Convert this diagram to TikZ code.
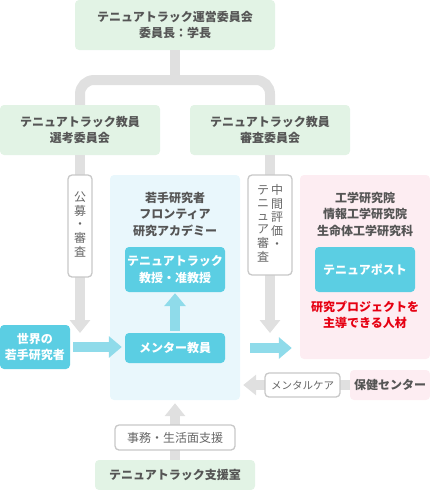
\documentclass[tikz,border=0pt]{standalone}
\usepackage{fontspec}
\newfontfamily\jp{Noto Sans CJK JP}
\usetikzlibrary{arrows.meta}
\definecolor{boxgreen}{HTML}{E2F3E5}
\definecolor{boxcyan}{HTML}{5BCEE3}
\definecolor{arrcyan}{HTML}{8FDBEA}
\definecolor{boxblue}{HTML}{E9F7FC}
\definecolor{boxpink}{HTML}{FDEDF2}
\definecolor{linegray}{HTML}{E0E0E0}
\definecolor{framegray}{HTML}{C8C8C8}
\definecolor{txtgray}{HTML}{555555}
\definecolor{txtred}{HTML}{E60012}
\newcommand{\bigfont}{\jp\bfseries\fontsize{12pt}{16.5pt}\selectfont}
\newcommand{\smallfont}{\jp\fontsize{12pt}{13pt}\selectfont}

\begin{document}
\begin{tikzpicture}[x=1pt,y=-1pt,
    box/.style={rounded corners=4pt, inner sep=0pt, align=center, font=\bigfont, text=txtgray},
    greenbox/.style={box, fill=boxgreen},
    cyanbox/.style={box, fill=boxcyan, text=white},
    pinkbox/.style={box, fill=boxpink},
    bluebox/.style={box, fill=boxblue},
    tag/.style={draw=framegray, line width=1.3pt, fill=white, rounded corners=4pt, inner sep=0pt, align=center, font=\smallfont, text=txtgray!90},
    trunk/.style={draw=linegray, line width=10pt},
    grayarrow/.style={trunk, -{Triangle[width=20pt,length=13pt]}},
    cyanarrow/.style={draw=arrcyan, line width=10pt, -{Triangle[width=21pt,length=13pt]}}]
    \useasboundingbox (0,0) rectangle (430,490);

    % boxes
    \node[greenbox, minimum width=200pt, minimum height=50pt] (top) at (175,25) {テニュアトラック運営委員会\\委員長：学長};
    \node[greenbox, minimum width=160pt, minimum height=50pt] (sel) at (80,130) {テニュアトラック教員\\選考委員会};
    \node[greenbox, minimum width=160pt, minimum height=50pt] (rev) at (270,130) {テニュアトラック教員\\審査委員会};

    \node[bluebox, minimum width=130pt, minimum height=225pt] (acad) at (175,287.5) {};
    \node[box] (acadtitle) at (175,214) {若手研究者\\フロンティア\\研究アカデミー};
    \node[cyanbox, minimum width=100pt, minimum height=45pt] (prof) at (175,269.5) {テニュアトラック\\教授・准教授};
    \node[cyanbox, minimum width=100pt, minimum height=30pt] (mentor) at (175,348) {メンター教員};
    \node[cyanbox, minimum width=70pt, minimum height=44pt] (world) at (35,347) {世界の\\若手研究者};

    \node[pinkbox, minimum width=130pt, minimum height=184pt] (grad) at (365,267) {};
    \node[box] (gradtitle) at (365,214) {工学研究院\\情報工学研究院\\生命体工学研究科};
    \node[cyanbox, minimum width=100pt, minimum height=45pt] (post) at (365,269.5) {テニュアポスト};
    \node[box, text=txtred] (leader) at (365,315) {研究プロジェクトを\\主導できる人材};

    \node[pinkbox, minimum width=80pt, minimum height=30pt] (health) at (390,385) {保健センター};
    \node[greenbox, minimum width=160pt, minimum height=30pt] (office) at (175,475) {テニュアトラック支援室};

    % connectors
    \coordinate (fork) at (175,80);
    \coordinate (selend) at (80,333);
    \coordinate (revend) at (270,333);
    \draw[trunk] (top.south) -- (fork);
    \draw[trunk, rounded corners=14pt] (sel.north) |- (fork) -| (rev.north);
    \draw[grayarrow] (sel.south) -- (selend);
    \draw[grayarrow] (rev.south) -- (revend);
    \draw[grayarrow, shorten >=3pt] (health.west) -- (health.west -| acad.east);
    \draw[grayarrow, shorten >=3pt] (office.north) -- (acad.south);

    \draw[cyanarrow, shorten <=3pt, shorten >=3pt] (world.east) -- (world.east -| mentor.west);
    \draw[cyanarrow, shorten <=2pt, shorten >=1pt] (mentor.north) -- (prof.south);
    \draw[cyanarrow, shorten <=10pt, shorten >=8pt] (acad.east |- mentor) -- (grad.west |- mentor);

    % labels on the lines
    \node[tag, minimum width=24pt, minimum height=102pt] (hire) at (80,226)
        {\begin{tabular}[t]{@{}c@{}}公\\募\\・\\審\\査\end{tabular}};
    \node[tag, minimum width=44pt, minimum height=100pt] (check) at (270,225)
        {\begin{tabular}[t]{@{}c@{\hspace{2pt}}c@{}}
          \begin{tabular}[t]{@{}c@{}}テ\\ニ\\ュ\\ア\\審\\査\end{tabular} &
          \begin{tabular}[t]{@{}c@{}}中\\間\\評\\価\\・\end{tabular}
        \end{tabular}};
    \node[tag, minimum width=75pt, minimum height=24pt, font=\jp\fontsize{10.5pt}{12pt}\selectfont] (care) at (302.5,385) {メンタルケア};
    \node[tag, minimum width=120pt, minimum height=25pt] (life) at (175,437.5) {事務・生活面支援};
\end{tikzpicture}
\end{document}
